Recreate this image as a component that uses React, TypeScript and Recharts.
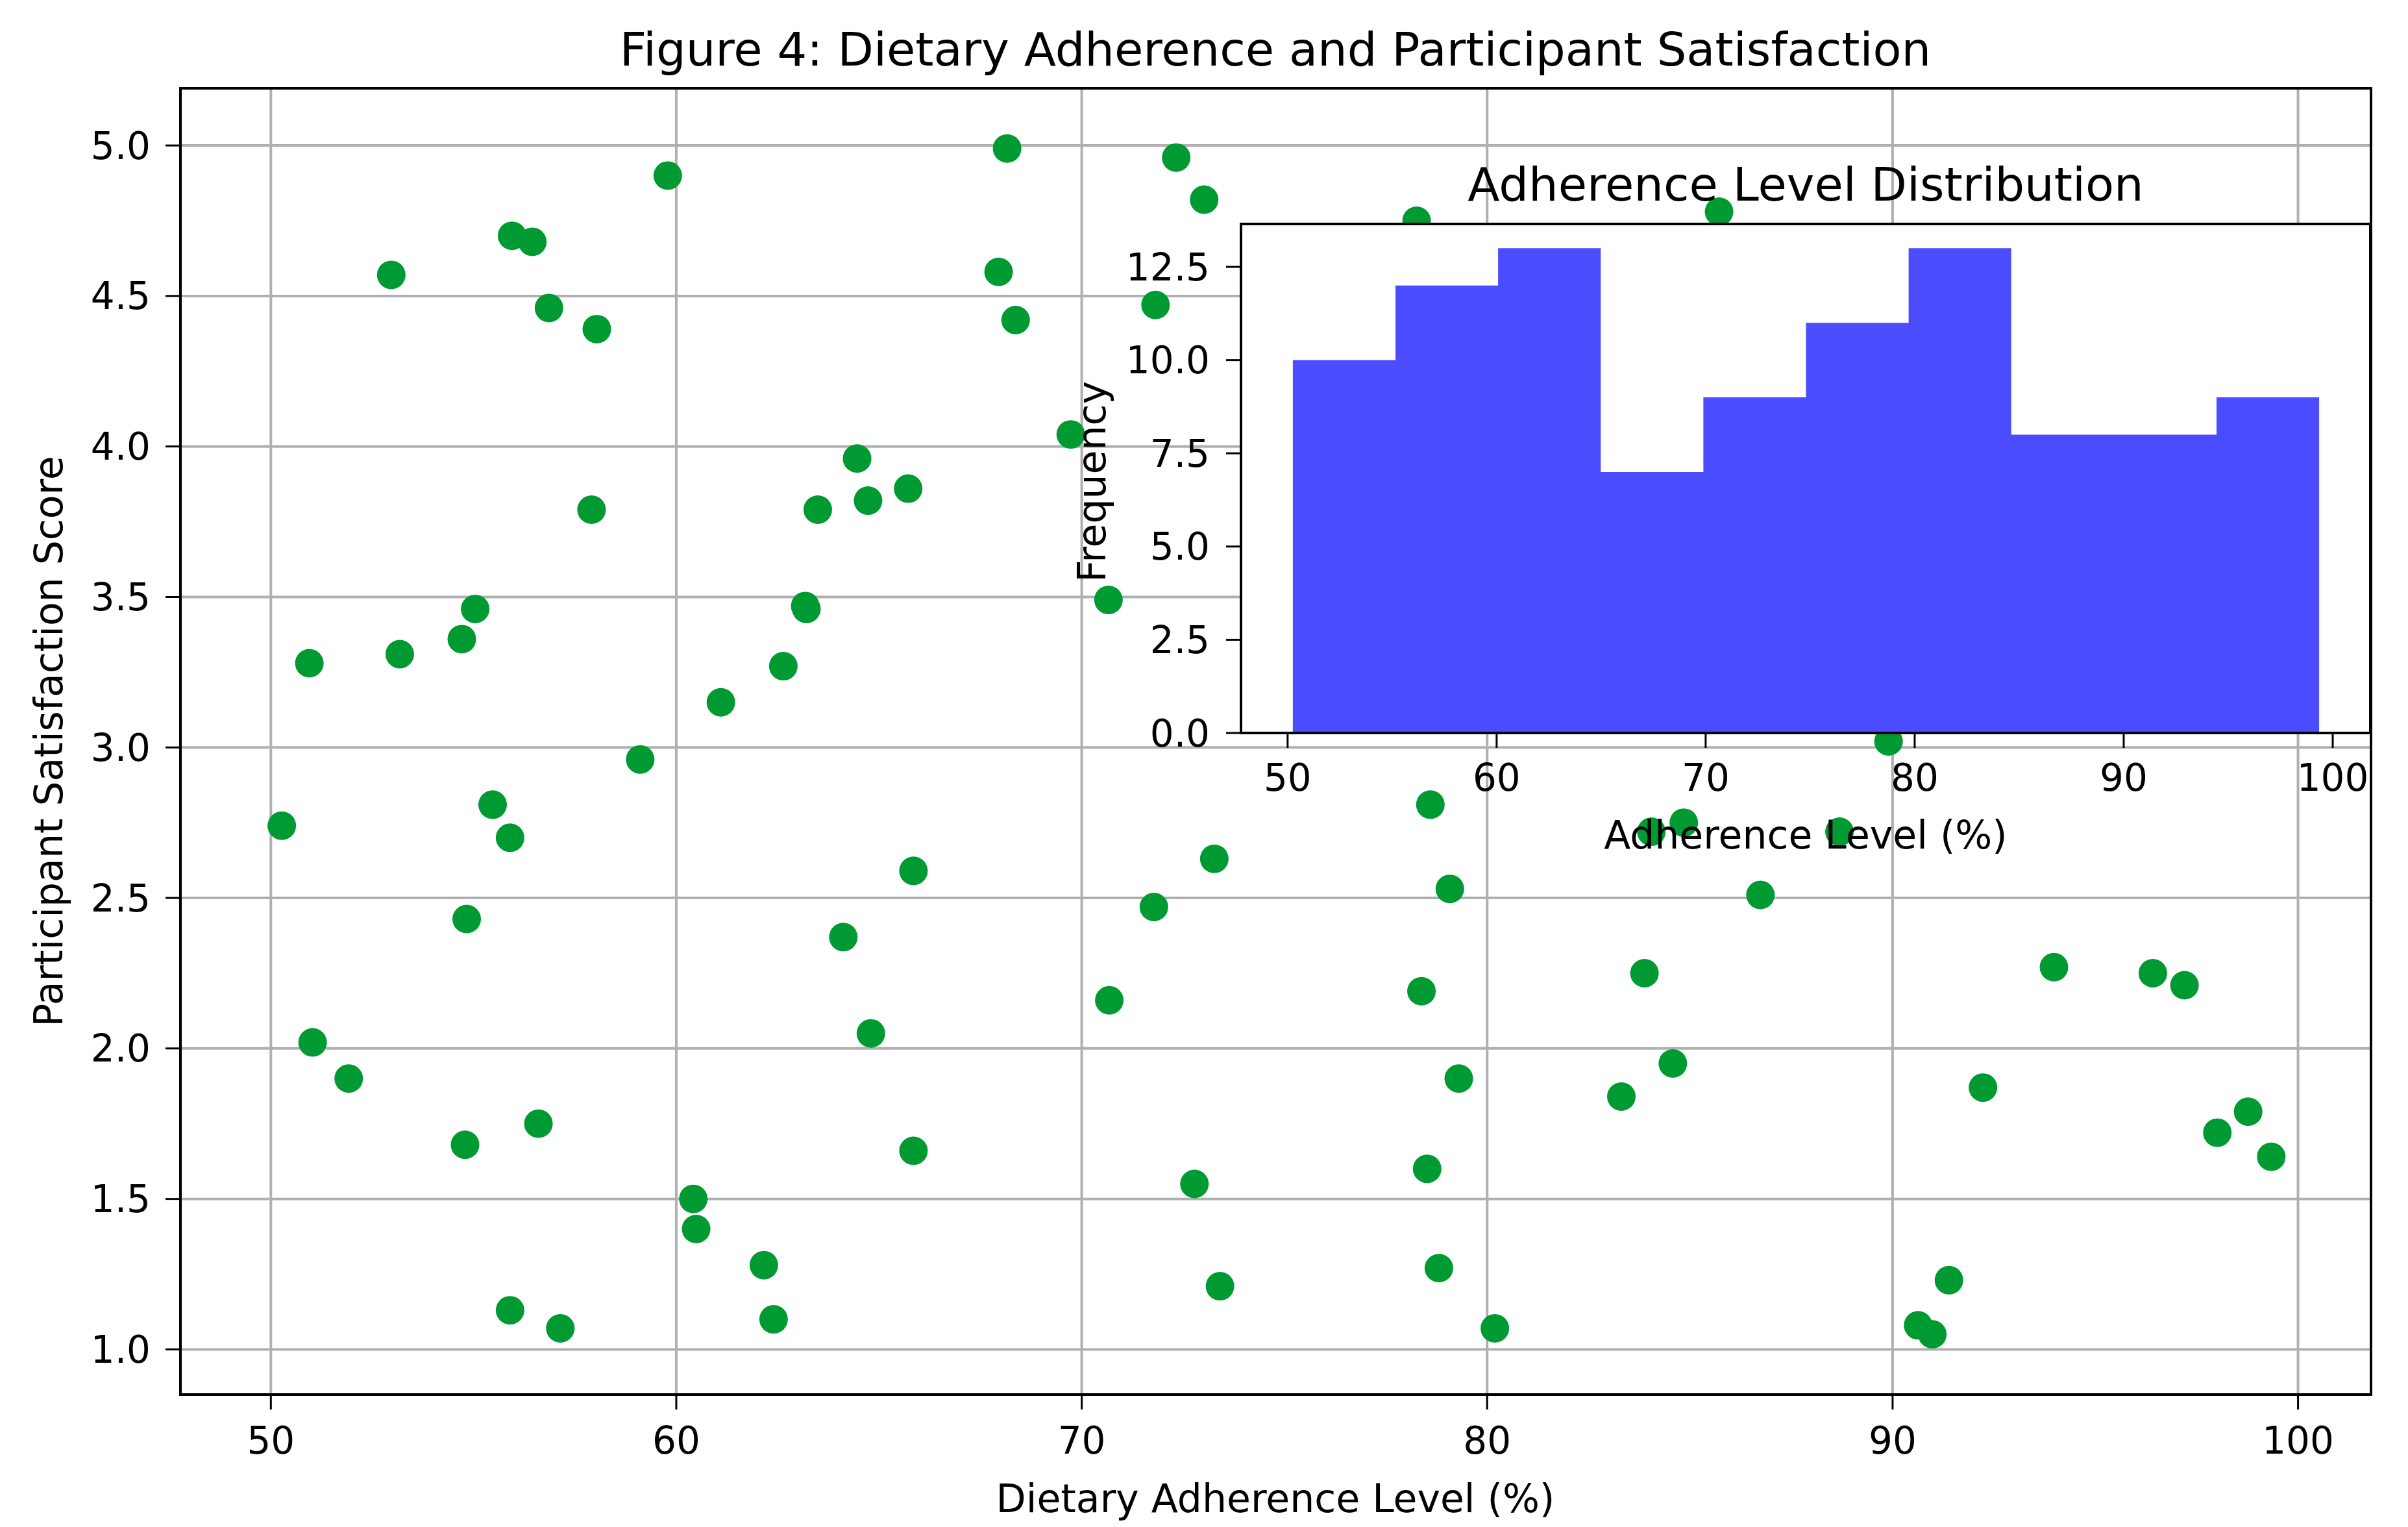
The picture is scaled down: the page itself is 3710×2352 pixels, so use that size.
import React from "react";
import {
  ScatterChart, Scatter, XAxis, YAxis, CartesianGrid, ComposedChart, Area,
} from "recharts";

// scatter: dietary adherence (%) vs satisfaction score (points hidden under the inset are not readable)
const adherence = [
  50.95, 52.97, 53.18, 54.71, 55.04, 55.95, 56.45, 56.86, 58.04, 57.91, 59.79, 59.11, 61.10, 62.64,
  63.18, 63.21, 63.49, 64.46, 64.73, 65.72, 68.16, 67.95, 68.37, 69.73, 70.66, 72.33, 73.02, 71.82,
  78.26, 85.72, 89.9, 98.8,
  78.6, 73.27, 79.08, 86.74, 84.05, 84.85, 88.69, 83.88, 93.98, 96.42, 97.2, 78.38, 84.58, 79.3,
  83.31, 92.23, 98.77, 98.01, 99.34, 78.52, 72.78, 78.81, 73.41, 91.39, 80.19, 90.63, 90.98,
  50.27, 55.47, 55.9, 65.85, 54.83, 64.12, 71.78, 70.68, 51.03, 64.8, 51.92, 56.6, 54.79, 65.85,
  60.42, 60.49, 62.16, 55.9, 57.14, 62.4,
];
const satisfaction = [
  3.28, 4.57, 3.31, 3.36, 3.46, 4.70, 4.68, 4.46, 4.39, 3.79, 4.90, 2.96, 3.15, 3.27,
  3.47, 3.46, 3.79, 3.96, 3.82, 3.86, 4.99, 4.58, 4.42, 4.04, 3.49, 4.96, 4.82, 4.47,
  4.75, 4.78, 3.02, 3.11,
  2.81, 2.63, 2.53, 2.51, 2.72, 2.75, 2.72, 2.25, 2.27, 2.25, 2.21, 2.19, 1.95, 1.90,
  1.84, 1.87, 1.79, 1.72, 1.64, 1.60, 1.55, 1.27, 1.21, 1.23, 1.07, 1.08, 1.05,
  2.74, 2.81, 2.70, 2.59, 2.43, 2.37, 2.47, 2.16, 2.02, 2.05, 1.90, 1.75, 1.68, 1.66,
  1.50, 1.40, 1.28, 1.13, 1.07, 1.10,
];

// inset histogram (10 bins)
const binEdges = [50.25, 55.16, 60.07, 64.98, 69.89, 74.8, 79.71, 84.62, 89.53, 94.44, 99.35];
const binCounts = [10, 12, 13, 7, 9, 11, 13, 8, 8, 9];

const xTicks = [50, 60, 70, 80, 90, 100];
const yTicks = [1, 1.5, 2, 2.5, 3, 3.5, 4, 4.5, 5];
const histYTicks = [0, 2.5, 5, 7.5, 10, 12.5];

const points = adherence.map((x, i) => ({ x, y: satisfaction[i] }));
// stepAfter area: last edge repeats the last count so the final bin closes
const histData = binEdges.map((x, i) => ({ x, c: binCounts[Math.min(i, binCounts.length - 1)] }));

const FONT = "DejaVu Sans";
const tickStyle = { fontSize: 58, fill: "#000", fontFamily: FONT };
const tickLine = { stroke: "#000", strokeWidth: 3 };
const fmt1 = (v: number) => v.toFixed(1);

const Dot = (props: any) => <circle cx={props.cx} cy={props.cy} r={22} fill="#009a33" />;

export default function App() {
  return (
    <div style={{ position: "absolute", left: 0, top: 0, width: 3710, height: 2352, background: "#fff" }}>
      {/* main scatter */}
      <div style={{ position: "absolute", left: 0, top: 0 }}>
        <ScatterChart width={3710} height={2352} margin={{ top: 136, right: 57, left: 0, bottom: 0 }}>
          <CartesianGrid stroke="#b0b0b0" strokeWidth={4} />
          <XAxis type="number" dataKey="x" domain={[47.77, 101.8]} ticks={xTicks} allowDataOverflow
            height={204} axisLine={false} tickLine={tickLine} tickSize={23} tickMargin={27} tick={tickStyle} />
          <YAxis type="number" dataKey="y" domain={[0.85, 5.19]} ticks={yTicks} allowDataOverflow
            width={278} axisLine={false} tickLine={tickLine} tickSize={23} tickMargin={23} tick={tickStyle}
            tickFormatter={fmt1} />
          <Scatter data={points} shape={<Dot />} isAnimationActive={false} />
        </ScatterChart>
      </div>

      {/* inset histogram */}
      <div style={{ position: "absolute", left: 1600, top: 250 }}>
        <ComposedChart width={2110} height={1100} data={histData} margin={{ top: 95, right: 58, left: 0, bottom: 0 }}>
          <CartesianGrid fill="#ffffff" stroke="none" horizontal={false} vertical={false} />
          <XAxis type="number" dataKey="x" domain={[47.77, 101.8]} ticks={xTicks} allowDataOverflow
            height={221} axisLine={false} tickLine={tickLine} tickSize={23} tickMargin={25} tick={tickStyle} />
          <YAxis type="number" domain={[0, 13.65]} ticks={histYTicks} allowDataOverflow
            width={312} axisLine={false} tickLine={tickLine} tickSize={23} tickMargin={25} tick={tickStyle}
            tickFormatter={fmt1} />
          <Area type="stepAfter" dataKey="c" fill="#0000ff" fillOpacity={0.7} stroke="none" isAnimationActive={false} />
        </ComposedChart>
      </div>

      {/* spines and text */}
      <svg width={3710} height={2352} style={{ position: "absolute", left: 0, top: 0, pointerEvents: "none" }}
        fontFamily={FONT} fill="#000">
        <rect x={278} y={136} width={3375} height={2012} fill="none" stroke="#000" strokeWidth={4} />
        <rect x={1912} y={345} width={1740} height={784} fill="none" stroke="#000" strokeWidth={4} />
        <text x={1965} y={76} fontSize={72} textAnchor="middle" dominantBaseline="central">
          Figure 4: Dietary Adherence and Participant Satisfaction
        </text>
        <text x={1965} y={2308} fontSize={60} textAnchor="middle" dominantBaseline="central">
          Dietary Adherence Level (%)
        </text>
        <text x={75} y={1142} fontSize={60} textAnchor="middle" dominantBaseline="central"
          transform="rotate(-90 75 1142)">
          Participant Satisfaction Score
        </text>
        <text x={2782} y={284} fontSize={72} textAnchor="middle" dominantBaseline="central">
          Adherence Level Distribution
        </text>
        <text x={2782} y={1286} fontSize={60} textAnchor="middle" dominantBaseline="central">
          Adherence Level (%)
        </text>
        <text x={1682} y={742} fontSize={60} textAnchor="middle" dominantBaseline="central"
          transform="rotate(-90 1682 742)">
          Frequency
        </text>
      </svg>
    </div>
  );
}
